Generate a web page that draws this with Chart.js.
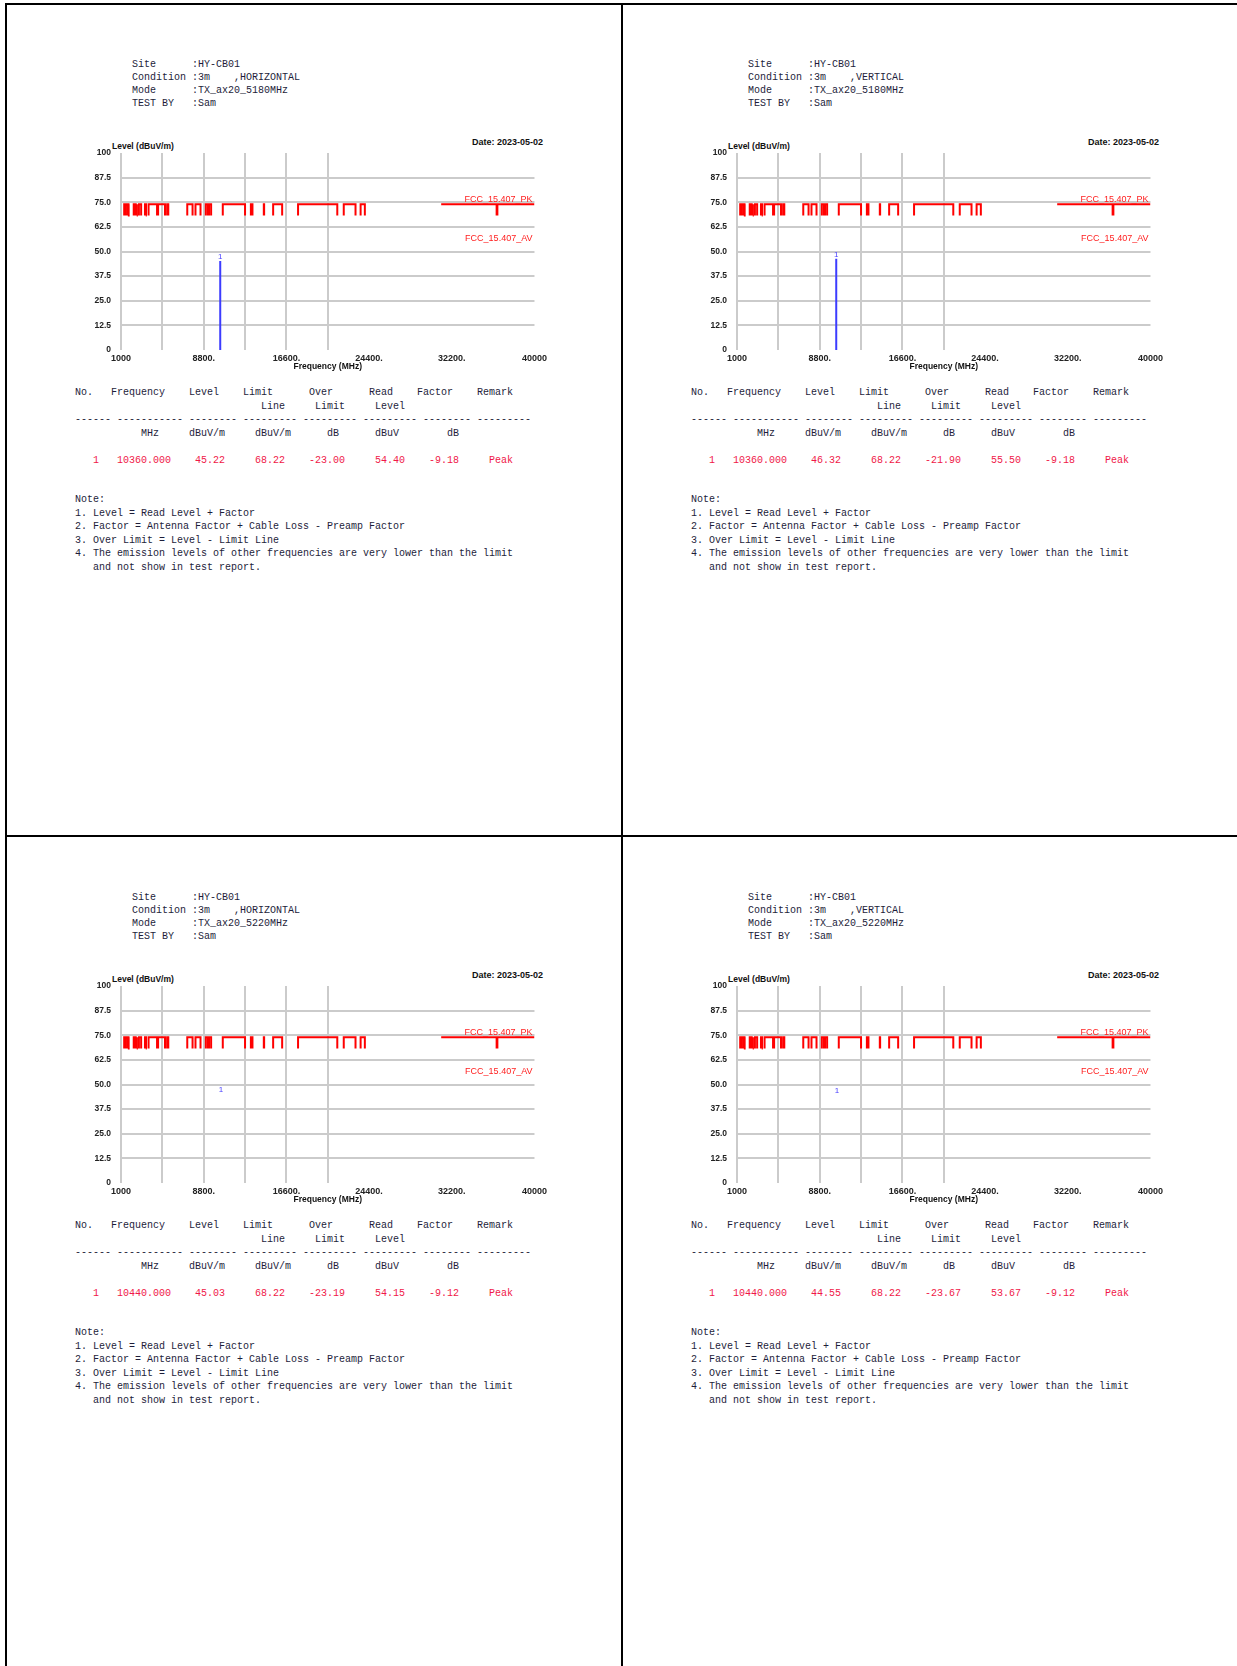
<!DOCTYPE html>
<html lang="en">
<head>
<meta charset="UTF-8">
<title>Radiated Emission 1-40 GHz</title>
<script src="https://cdn.jsdelivr.net/npm/chart.js"></script>
<style>
    html, body { margin: 0; padding: 0; background: #fff; }
    body { width: 1237px; height: 1666px; position: relative; overflow: hidden; font-family: 'Liberation Sans', Arial, sans-serif; }
    .rule { position: absolute; background: #000; }
    .panel { position: absolute; width: 616px; height: 833px; }
    .panel pre { position: absolute; margin: 0; font-family: 'Liberation Mono', 'DejaVu Sans Mono', monospace; font-size: 10px; color: #1d1d3a; }
    .info { left: 132px; top: 58px; line-height: 13px; }
    .table { left: 75px; top: 386px; line-height: 13.5px; }
    .table .hit { color: #f01848; }
    .notes { left: 75px; top: 493px; line-height: 13.6px; }
    .ytitle { position: absolute; left: 112px; top: 141px; font: bold 8.5px/10px 'Liberation Sans', Arial, sans-serif; color: #111; white-space: nowrap; }
    .date { position: absolute; left: 472px; top: 137px; font: bold 9px/10px 'Liberation Sans', Arial, sans-serif; color: #111; white-space: nowrap; }
    .chart-box { position: absolute; left: 60px; top: 128px; width: 490px; height: 252px; }
</style>
</head>
<body>
<div class="rule" style="left:5px; top:3px; width:2px; height:1663px;"></div>
<div class="rule" style="left:621px; top:3px; width:2px; height:1663px;"></div>
<div class="rule" style="left:5px; top:3px; width:1232px; height:2px;"></div>
<div class="rule" style="left:5px; top:835px; width:1232px; height:2px;"></div>
<div id="sheet"></div>

<script>
// ---- data ----
const site = 'HY-CB01';
const testBy = 'Sam';
const testDate = '2023-05-02';
const polarization = ['HORIZONTAL', 'VERTICAL', 'HORIZONTAL', 'VERTICAL'];
const modes = ['TX_ax20_5180MHz', 'TX_ax20_5180MHz', 'TX_ax20_5220MHz', 'TX_ax20_5220MHz'];

// measured peak (MHz, dBuV/m ...)
const peakFreq = [10360, 10360, 10440, 10440];
const peakLevel = [45.22, 46.32, 45.03, 44.55];
const peakLimit = [68.22, 68.22, 68.22, 68.22];
const overLimit = [-23.00, -21.90, -23.19, -23.67];
const readLevel = [54.40, 55.50, 54.15, 53.67];
const factor = [-9.18, -9.18, -9.12, -9.12];
const traceShown = [true, true, false, false];

// FCC_15.407_PK limit: 74 in restricted bands, 68.22 elsewhere
const pkHigh = 74;
const pkLow = 68.22;
const avLimit = 54;
const restrictedBands = [
    [1300, 1427], [1435, 1626.5], [1645.5, 1646.5], [1660, 1710], [1718.8, 1722.2],
    [2200, 2300], [2310, 2390], [2483.5, 2500], [2690, 2900], [3260, 3267],
    [3332, 3339], [3345.8, 3358], [3600, 4400], [4500, 5150], [5350, 5460],
    [7250, 7750], [8025, 8500], [9000, 9200], [9300, 9500], [10600, 12700],
    [13250, 13400], [14470, 14500], [15350, 16200], [17700, 21400], [22010, 23120],
    [23600, 24000], [36430, 36500]
];
// stretches where only the 74 level shows
const openBands = [[31200, 40000]];

const yTicks = [0, 12.5, 25, 37.5, 50, 62.5, 75, 87.5, 100];
const xGrid = [1000, 4900, 8800, 12700, 16600, 20500];
const xLabelValues = [1000, 8800, 16600, 24400, 32200, 40000];
const xLabelText = ['1000', '8800.', '16600.', '24400.', '32200.', '40000'];

const offsetsX = [0, 616];
const offsetsY = [0, 833];

// ---- helpers ----
function placeAt(parts) {
    let s = '';
    parts.forEach(([col, text]) => { s = s.padEnd(col) + text; });
    return s;
}

function limitPoints() {
    const pts = [];
    restrictedBands.forEach(([a, b]) => {
        pts.push({x: a, y: pkLow}, {x: a, y: pkHigh}, {x: b, y: pkHigh}, {x: b, y: pkLow}, {x: b, y: null});
    });
    openBands.forEach(([a, b]) => {
        pts.push({x: a, y: pkHigh}, {x: b, y: pkHigh}, {x: b, y: null});
    });
    return pts;
}

const fontFamily = "'Liberation Sans', Arial, sans-serif";
Chart.defaults.font.family = fontFamily;

const annotate = {
    id: 'annotate',
    afterDatasetsDraw(chart, args, opts) {
        const {ctx, chartArea, scales: {x, y}} = chart;
        ctx.save();
        ctx.fillStyle = '#ff2020';
        ctx.font = '9px ' + fontFamily;
        ctx.textAlign = 'right';
        ctx.textBaseline = 'alphabetic';
        ctx.fillText('FCC_15.407_PK', chartArea.right - 2, y.getPixelForValue(pkHigh) - 2);
        ctx.fillText('FCC_15.407_AV', chartArea.right - 2, y.getPixelForValue(avLimit) - 3);
        // marker number above the peak
        ctx.fillStyle = '#4a40ff';
        ctx.font = '8px ' + fontFamily;
        ctx.textAlign = 'center';
        ctx.fillText('1', x.getPixelForValue(opts.freq), y.getPixelForValue(opts.level) - 2);
        ctx.restore();
    }
};

function buildPanel(i) {
    const panel = document.createElement('div');
    panel.className = 'panel';
    panel.style.left = offsetsX[i % 2] + 'px';
    panel.style.top = offsetsY[Math.floor(i / 2)] + 'px';

    const info = [
        placeAt([[0, 'Site'], [10, ':' + site]]),
        placeAt([[0, 'Condition'], [10, ':3m'], [17, ',' + polarization[i]]]),
        placeAt([[0, 'Mode'], [10, ':' + modes[i]]]),
        placeAt([[0, 'TEST BY'], [10, ':' + testBy]])
    ].join('\n');

    const tableHead = [
        placeAt([[0, 'No.'], [6, 'Frequency'], [19, 'Level'], [28, 'Limit'], [39, 'Over'], [49, 'Read'], [57, 'Factor'], [67, 'Remark']]),
        placeAt([[31, 'Line'], [40, 'Limit'], [50, 'Level']]),
        '------ ----------- -------- --------- --------- --------- -------- ---------',
        placeAt([[11, 'MHz'], [19, 'dBuV/m'], [30, 'dBuV/m'], [42, 'dB'], [50, 'dBuV'], [62, 'dB']]),
        ''
    ].join('\n');
    const row = placeAt([[3, '1'], [7, peakFreq[i].toFixed(3)], [20, peakLevel[i].toFixed(2)], [30, peakLimit[i].toFixed(2)],
        [39, overLimit[i].toFixed(2)], [50, readLevel[i].toFixed(2)], [59, factor[i].toFixed(2)], [69, 'Peak']]);

    const notes = [
        'Note:',
        '1. Level = Read Level + Factor',
        '2. Factor = Antenna Factor + Cable Loss - Preamp Factor',
        '3. Over Limit = Level - Limit Line',
        '4. The emission levels of other frequencies are very lower than the limit',
        '   and not show in test report.'
    ].join('\n');

    panel.innerHTML =
        '<pre class="info"></pre>' +
        '<div class="ytitle">Level (dBuV/m)</div>' +
        '<div class="date">Date: ' + testDate + '</div>' +
        '<div class="chart-box"><canvas></canvas></div>' +
        '<pre class="table"></pre>' +
        '<pre class="notes"></pre>';
    panel.querySelector('.info').textContent = info;
    const tbl = panel.querySelector('.table');
    tbl.textContent = tableHead + '\n';
    const hit = document.createElement('span');
    hit.className = 'hit';
    hit.textContent = row;
    tbl.appendChild(hit);
    panel.querySelector('.notes').textContent = notes;
    document.getElementById('sheet').appendChild(panel);

    const trace = traceShown[i] ? [{x: peakFreq[i], y: 0}, {x: peakFreq[i], y: peakLevel[i]}] : [];

    new Chart(panel.querySelector('canvas').getContext('2d'), {
        type: 'line',
        data: {
            datasets: [
                {
                    label: 'FCC_15.407_PK',
                    data: limitPoints(),
                    borderColor: '#ff0000',
                    borderWidth: 2,
                    pointRadius: 0,
                    spanGaps: false
                },
                {
                    label: 'Level',
                    data: trace,
                    borderColor: '#3c3cff',
                    borderWidth: 2,
                    pointRadius: 0
                }
            ]
        },
        options: {
            responsive: true,
            maintainAspectRatio: false,
            animation: false,
            layout: { padding: { top: 25, right: 14, left: 0, bottom: 0 } },
            plugins: {
                legend: { display: false },
                tooltip: { enabled: false },
                annotate: { freq: peakFreq[i], level: peakLevel[i] }
            },
            scales: {
                x: {
                    type: 'linear',
                    min: 1000,
                    max: 40000,
                    afterBuildTicks: s => { s.ticks = [...new Set([...xGrid, ...xLabelValues])].sort((a, b) => a - b).map(v => ({value: v})); },
                    afterFit: s => { s.height = 30; },
                    border: { display: false },
                    grid: {
                        drawTicks: false,
                        lineWidth: 2,
                        color: c => (c.tick && xGrid.includes(c.tick.value)) ? '#cbcbcb' : 'rgba(0,0,0,0)'
                    },
                    ticks: {
                        autoSkip: false,
                        maxRotation: 0,
                        padding: 3,
                        color: '#222',
                        font: { size: 9, weight: 'bold' },
                        callback: v => { const k = xLabelValues.indexOf(v); return k >= 0 ? xLabelText[k] : ''; }
                    },
                    title: {
                        display: true,
                        text: 'Frequency (MHz)',
                        color: '#111',
                        font: { size: 8.5, weight: 'bold' },
                        padding: { top: 0, bottom: 8 }
                    }
                },
                y: {
                    min: 0,
                    max: 100,
                    afterBuildTicks: s => { s.ticks = yTicks.map(v => ({value: v})); },
                    afterFit: s => { s.width = 61; },
                    border: { display: false },
                    grid: {
                        drawTicks: false,
                        lineWidth: 2,
                        color: c => (c.tick && (c.tick.value === 0 || c.tick.value === 100)) ? 'rgba(0,0,0,0)' : '#cbcbcb'
                    },
                    ticks: {
                        padding: 10,
                        color: '#222',
                        font: { size: 8.5, weight: 'bold' },
                        callback: v => (v === 0 || v === 100) ? String(v) : v.toFixed(1)
                    }
                }
            }
        },
        plugins: [annotate]
    });
}

[0, 1, 2, 3].forEach(buildPanel);
</script>
</body>
</html>
